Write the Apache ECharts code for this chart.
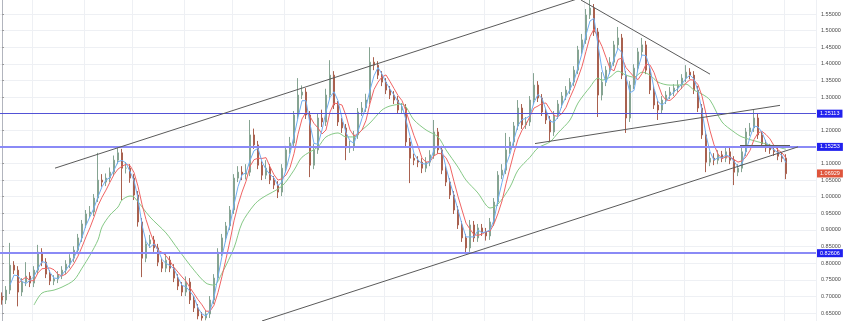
<!DOCTYPE html>
<html><head><meta charset="utf-8">
<script src="https://cdn.jsdelivr.net/npm/echarts@6/dist/echarts.min.js"></script>
<style>html,body{margin:0;padding:0;background:#fff}#c{width:845px;height:321px}</style>
</head><body><div id="c"></div>
<script>
// quarterly closes
const closes=[
0.689,0.719,0.794,0.779,0.713,0.743,0.761,0.740,0.779,0.833,
0.803,0.767,0.746,0.752,0.764,0.779,0.797,0.815,0.839,0.876,
0.918,0.948,0.954,0.996,1.050,1.044,1.056,1.074,1.110,1.132,
1.086,1.086,1.056,1.005,0.924,0.815,0.858,0.870,0.846,0.803,
0.785,0.809,0.785,0.755,0.731,0.713,0.743,0.689,0.665,0.641,
0.635,0.647,0.689,0.755,0.833,0.876,0.912,0.960,1.056,1.074,
1.068,1.074,1.186,1.156,1.095,1.065,1.086,1.050,1.035,1.014,
1.086,1.141,1.162,1.246,1.306,1.315,1.246,1.095,1.141,1.237,
1.225,1.306,1.366,1.276,1.225,1.207,1.147,1.150,1.186,1.255,
1.267,1.291,1.405,1.396,1.366,1.345,1.321,1.306,1.291,1.261,
1.267,1.165,1.116,1.110,1.104,1.086,1.104,1.126,1.195,1.141,
1.080,1.044,1.005,0.960,0.915,0.876,0.846,0.915,0.876,0.906,
0.894,0.882,0.924,0.984,1.065,1.080,1.141,1.165,1.213,1.267,
1.216,1.225,1.291,1.336,1.297,1.255,1.231,1.195,1.246,1.279,
1.303,1.321,1.345,1.381,1.442,1.472,1.547,1.568,1.496,1.306,
1.345,1.381,1.405,1.457,1.478,1.366,1.237,1.336,1.387,1.436,
1.457,1.381,1.321,1.276,1.261,1.291,1.306,1.315,1.327,1.336,
1.357,1.375,1.366,1.321,1.267,1.186,1.104,1.116,1.110,1.126,
1.116,1.135,1.110,1.074,1.086,1.135,1.195,1.207,1.237,1.186,
1.159,1.147,1.141,1.135,1.122,1.116,1.06929];
const highs=[
0.712,0.731,0.861,0.806,0.791,0.755,0.803,0.773,0.791,0.855,
0.845,0.815,0.779,0.764,0.776,0.791,0.809,0.827,0.851,0.888,
0.930,0.960,0.972,1.008,1.132,1.068,1.070,1.088,1.124,1.150,
1.144,1.104,1.098,1.068,1.017,0.936,0.870,0.885,0.882,0.858,
0.815,0.830,0.821,0.797,0.767,0.743,0.760,0.755,0.701,0.677,
0.653,0.659,0.701,0.767,0.845,0.888,0.924,0.972,1.068,1.092,
1.092,1.098,1.231,1.205,1.168,1.107,1.110,1.098,1.062,1.047,
1.098,1.153,1.180,1.258,1.357,1.335,1.327,1.258,1.160,1.249,
1.262,1.325,1.411,1.378,1.288,1.237,1.219,1.168,1.198,1.267,
1.285,1.310,1.450,1.420,1.408,1.378,1.357,1.333,1.318,1.303,
1.282,1.279,1.177,1.130,1.122,1.116,1.119,1.140,1.231,1.207,
1.153,1.092,1.056,1.017,0.972,0.927,0.888,0.930,0.927,0.918,
0.918,0.906,0.936,0.996,1.077,1.098,1.192,1.180,1.225,1.291,
1.279,1.240,1.303,1.372,1.348,1.309,1.267,1.243,1.258,1.291,
1.315,1.333,1.357,1.393,1.454,1.490,1.565,1.601,1.580,1.508,
1.375,1.393,1.420,1.469,1.511,1.490,1.378,1.348,1.399,1.448,
1.478,1.469,1.393,1.333,1.288,1.303,1.318,1.330,1.339,1.351,
1.369,1.396,1.387,1.378,1.333,1.279,1.198,1.135,1.131,1.140,
1.138,1.147,1.147,1.122,1.098,1.147,1.207,1.222,1.261,1.249,
1.198,1.171,1.159,1.153,1.147,1.134,1.128];
const lows=[
0.675,0.677,0.707,0.767,0.670,0.701,0.731,0.728,0.728,0.767,
0.791,0.755,0.734,0.734,0.740,0.752,0.767,0.785,0.803,0.827,
0.864,0.906,0.936,0.942,0.984,1.030,1.032,1.044,1.062,1.098,
0.990,1.070,1.042,0.990,0.910,0.758,0.803,0.846,0.834,0.791,
0.773,0.773,0.773,0.743,0.719,0.701,0.701,0.677,0.653,0.631,
0.627,0.628,0.635,0.677,0.743,0.821,0.864,0.900,0.948,1.044,
1.050,1.052,1.062,1.144,1.083,1.050,1.053,1.038,1.023,0.996,
1.002,1.074,1.129,1.150,1.234,1.294,1.234,1.059,1.083,1.129,
1.210,1.213,1.294,1.264,1.213,1.192,1.110,1.132,1.138,1.174,
1.243,1.255,1.279,1.381,1.354,1.333,1.309,1.294,1.279,1.249,
1.249,1.150,1.041,1.095,1.089,1.071,1.074,1.092,1.114,1.129,
1.068,1.032,0.993,0.948,0.903,0.864,0.830,0.834,0.864,0.864,
0.882,0.868,0.870,0.912,0.972,1.053,1.068,1.129,1.153,1.201,
1.204,1.204,1.213,1.279,1.285,1.243,1.219,1.165,1.183,1.234,
1.267,1.291,1.309,1.333,1.369,1.430,1.460,1.535,1.484,1.240,
1.290,1.333,1.369,1.393,1.445,1.354,1.192,1.225,1.324,1.375,
1.424,1.369,1.309,1.264,1.231,1.249,1.279,1.294,1.303,1.315,
1.324,1.345,1.354,1.309,1.255,1.174,1.074,1.092,1.095,1.098,
1.104,1.104,1.098,1.035,1.062,1.074,1.123,1.183,1.195,1.174,
1.147,1.135,1.129,1.123,1.110,1.104,1.053];
const firstOpen=0.700;

// slow moving average: [bar index] and [value]
const greenIdx=[8,10,13,15,18,20,22,24,25,27,29,30,32,33,37,41,44,48,51,53,55,58,60,63,65,70,73,75,79,81,84,86,88,90,92,95,97,100,103,106,109,111,114,116,119,121,122,124,127,129,132,134,137,139,142,144,147,149,150,152,154,156,158,160,162,164,167,169,171,173,175,177,180,183,185,190,196];
const greenVal=[0.674,0.710,0.719,0.728,0.749,0.785,0.824,0.870,0.909,0.945,0.969,0.990,1.002,0.999,0.939,0.891,0.842,0.779,0.740,0.734,0.770,0.846,0.921,0.975,0.996,1.032,1.080,1.119,1.150,1.180,1.192,1.180,1.180,1.201,1.222,1.261,1.273,1.279,1.231,1.201,1.180,1.141,1.089,1.050,1.011,0.975,0.966,0.978,1.029,1.080,1.119,1.147,1.165,1.192,1.231,1.282,1.330,1.357,1.351,1.360,1.378,1.366,1.360,1.375,1.366,1.345,1.336,1.336,1.339,1.321,1.309,1.291,1.225,1.195,1.180,1.162,1.143];

const levelLines=[1.25113,1.15253,0.82606];
const lastPrice=1.06929;
// trend lines in data space: [bar position, price]
const trendLines=[
 [[13.25,1.086],[144.5,1.598]],
 [[65,0.626],[199,1.150]],
 [[144.75,1.592],[177,1.369]],
 [[133.25,1.160],[194.5,1.275]],
 [[184.5,1.154],[197,1.154]]
];
const hiddenTicks=[1.25,1.15];
const slotCount=204;
const startYear=1971;

const categories=[];
for(let i=0;i<slotCount;i++){categories.push((startYear+Math.floor(i/4))+' Q'+(i%4+1));}
const candles=closes.map((c,i)=>[i?closes[i-1]:firstOpen,c,lows[i],highs[i]]);
function sma(arr,n){return arr.map((v,i)=>{if(i<n-1)return '-';let s=0;for(let k=i-n+1;k<=i;k++)s+=arr[k];return +(s/n).toFixed(5);});}
const green=greenIdx.map((x,k)=>[x,greenVal[k]]);

// vertical grid every 50px starting at 33px -> nearest band boundaries
const vGrid=new Set();
for(let m=0;m<17;m++){vGrid.add(Math.round((33+50*m)/4));}

const chart=echarts.init(document.getElementById('c'),null,{renderer:'canvas'});
const FONT='Liberation Sans';
chart.setOption({
 animation:false,
 backgroundColor:'#ffffff',
 grid:{left:0,right:29,top:-2.6,bottom:-8.6,containLabel:false,outerBoundsMode:'none'},
 xAxis:[
  {type:'category',data:categories,boundaryGap:true,axisLine:{show:false},axisTick:{show:false},axisLabel:{show:false},
   splitLine:{show:true,interval:(i)=>vGrid.has(i),lineStyle:{color:'#eef0f4',width:1}}},
  {type:'value',min:-0.5,max:slotCount-0.5,show:false}
 ],
 yAxis:{type:'value',position:'right',min:0.6,max:1.6,interval:0.05,
  axisLine:{show:true,lineStyle:{color:'#b2b5be',width:1}},
  axisTick:{show:true,length:2,lineStyle:{color:'#9a9a9a'}},
  axisLabel:{fontSize:5.5,color:'#4a4a4a',margin:5,fontFamily:FONT,
   formatter:(v)=>{if(v>1.57||v<0.63)return '';for(const h of hiddenTicks){if(Math.abs(v-h)<1e-6)return '';}return v.toFixed(5);}},
  splitLine:{show:true,lineStyle:{color:'#eef0f4',width:1}}},
 series:[
  {type:'candlestick',name:'price',xAxisIndex:0,data:candles,barWidth:1.8,z:2,
   itemStyle:{color:'#86a492',color0:'#a9614f',borderColor:'#86a492',borderColor0:'#a9614f',borderWidth:1},
   markLine:{symbol:'none',silent:true,animation:false,
    data:[{yAxis:lastPrice,lineStyle:{color:'rgba(0,0,0,0)',width:0},
     label:{show:true,position:'end',distance:1,formatter:lastPrice.toFixed(5),backgroundColor:'#df553c',color:'#fff',fontSize:5.5,fontFamily:FONT,padding:[1,3]}}]}},
  {type:'line',name:'slow',xAxisIndex:0,data:green,smooth:0.3,showSymbol:false,z:3,lineStyle:{color:'#86c986',width:1}},
  {type:'line',name:'mid',xAxisIndex:0,data:sma(closes,5),showSymbol:false,z:3,lineStyle:{color:'#f06464',width:1}},
  {type:'line',name:'fast',xAxisIndex:0,data:sma(closes,3),showSymbol:false,z:3,lineStyle:{color:'#6fadf2',width:1}},
  {type:'line',name:'drawings',xAxisIndex:1,data:[],z:4,
   markLine:{symbol:'none',silent:true,animation:false,
    data:[
     ...levelLines.map((v,k)=>({yAxis:v,
       lineStyle:{color:k===0?'#5252d6':'#8a8af6',width:k===0?1:2,type:'solid'},
       label:{show:true,position:'end',distance:1,formatter:v.toFixed(5),backgroundColor:'#2121ee',color:'#fff',fontSize:5.5,fontFamily:FONT,padding:[1,3]}})),
     ...trendLines.map(t=>[{coord:t[0],lineStyle:{color:'#5a5a5a',width:1,type:'solid'},label:{show:false}},{coord:t[1]}])
    ]}}
 ]
});
</script></body></html>
